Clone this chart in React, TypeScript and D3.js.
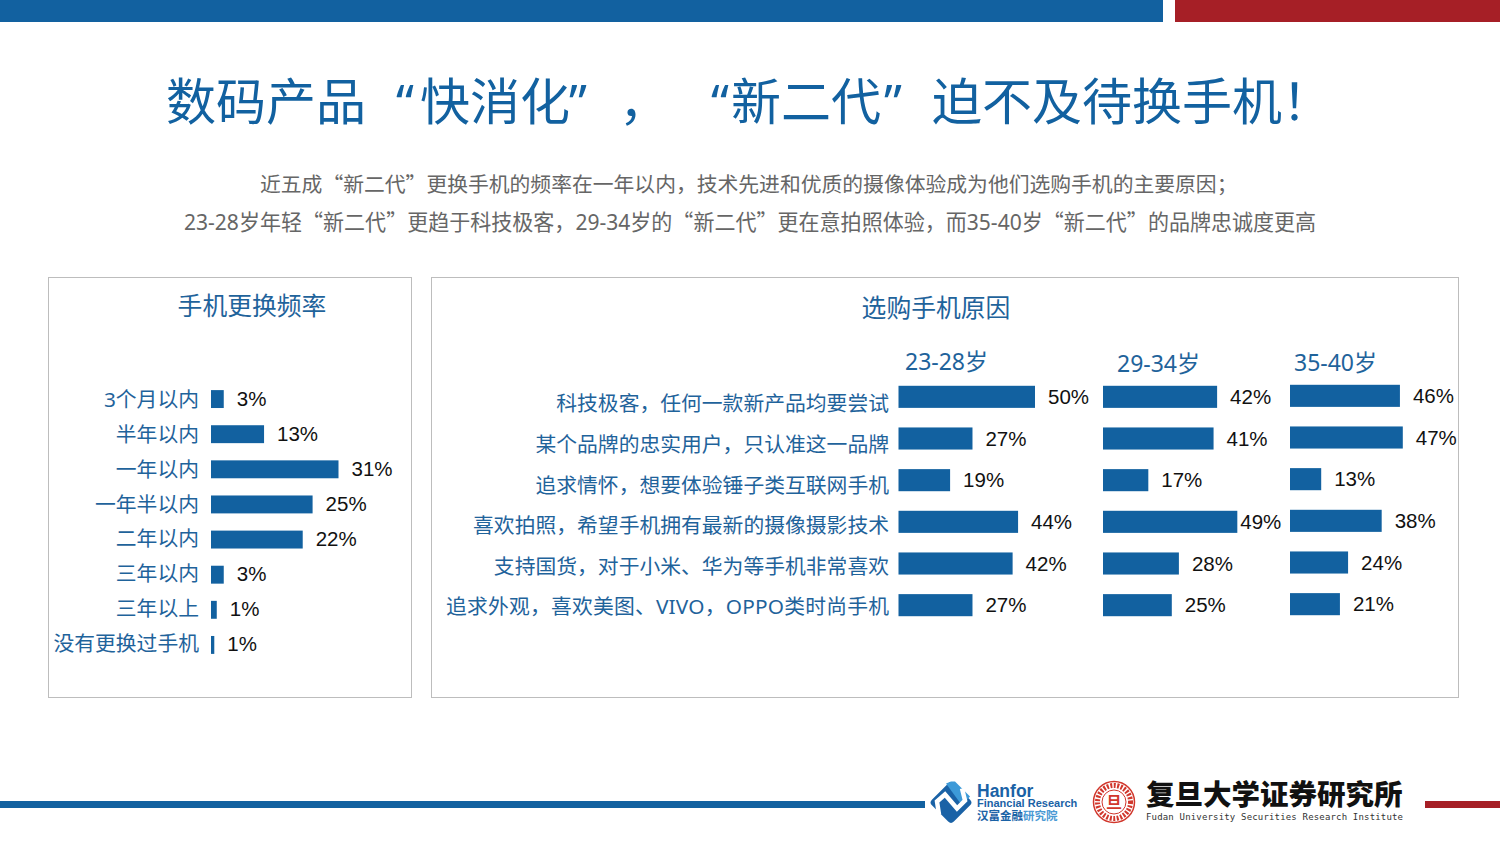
import { FC, useEffect, useRef } from 'react';
import * as d3 from 'd3';

const freqLabels = ['3个月以内', '半年以内', '一年以内', '一年半以内', '二年以内', '三年以内', '三年以上', '没有更换过手机'];
// bar lengths, the printed labels are these rounded
const freqValues = [3.1, 12.9, 31, 24.7, 22.3, 3.1, 1.4, 0.8];

const reasonLabels = [
  '科技极客，任何一款新产品均要尝试',
  '某个品牌的忠实用户，只认准这一品牌',
  '追求情怀，想要体验锤子类互联网手机',
  '喜欢拍照，希望手机拥有最新的摄像摄影技术',
  '支持国货，对于小米、华为等手机非常喜欢',
  '追求外观，喜欢美图、VIVO，OPPO类时尚手机',
];
const age2328 = [50, 27.1, 18.9, 43.8, 41.8, 27.1];
const age2934 = [41.8, 40.5, 16.6, 49.2, 27.8, 25.2];
const age3540 = [45.8, 47, 13, 38.2, 24.2, 20.8];

const BLUE = '#1261a0';
const TEXT_BLUE = '#1f639b';
const RED = '#a61f26';
const GRAY = '#666';
const FONT = '"Noto Sans", "Noto Sans CJK SC", sans-serif';
const CJK_FONT = '"Noto Sans CJK SC", sans-serif';
const NUM_FONT = '"Liberation Sans", Arial, sans-serif';

const App: FC = () => {
  const svgRef = useRef<SVGSVGElement>(null);

  useEffect(() => {
    if (!svgRef.current) return;
    const svg = d3.select(svgRef.current);
    svg.selectAll('*').remove();

    const label = (x: number, y: number, s: string, size: number, fill: string, anchor = 'start', family = FONT) =>
      svg.append('text')
        .attr('x', x)
        .attr('y', y)
        .attr('fill', fill)
        .attr('font-size', size)
        .attr('font-family', family)
        .attr('text-anchor', anchor)
        .text(s);

    // Subtitle lines: full width quotes from the CJK font, the rest as usual
    const subtitle = (x: number, y: number, s: string, size: number) => {
      const t = label(x, y, '', size, GRAY);
      s.split(/([“”])/).filter(p => p).forEach(p => {
        t.append('tspan')
          .attr('font-family', /[“”]/.test(p) ? CJK_FONT : FONT)
          .text(p);
      });
    };

    // Header and footer bands
    svg.append('rect').attr('x', 0).attr('y', 0).attr('width', 1163).attr('height', 22).attr('fill', BLUE);
    svg.append('rect').attr('x', 1175).attr('y', 0).attr('width', 325).attr('height', 22).attr('fill', RED);
    svg.append('rect').attr('x', 0).attr('y', 801).attr('width', 925).attr('height', 7).attr('fill', BLUE);
    svg.append('rect').attr('x', 1425).attr('y', 801).attr('width', 75).attr('height', 7).attr('fill', RED);

    // Title, placed piece by piece because of the wide gaps round the quotes and comma
    label(166, 120, '数码产品', 50, BLUE);
    label(396, 120, '“', 50, BLUE);
    label(420, 120, '快消化', 50, BLUE);
    label(569, 120, '”', 50, BLUE);
    label(619, 120, '，', 50, BLUE);
    label(711, 120, '“', 50, BLUE);
    label(731, 120, '新二代', 50, BLUE);
    label(884, 120, '”', 50, BLUE);
    label(932, 120, '迫不及待换手机！', 50, BLUE);

    subtitle(260, 192, '近五成“新二代”更换手机的频率在一年以内，技术先进和优质的摄像体验成为他们选购手机的主要原因；', 20.8);
    subtitle(184, 230, '23-28岁年轻“新二代”更趋于科技极客，29-34岁的“新二代”更在意拍照体验，而35-40岁“新二代”的品牌忠诚度更高', 21.04);

    // Panels
    svg.append('rect').attr('x', 48.5).attr('y', 277.5).attr('width', 363).attr('height', 420)
      .attr('fill', 'none').attr('stroke', '#bdbdbd');
    svg.append('rect').attr('x', 431.5).attr('y', 277.5).attr('width', 1027).attr('height', 420)
      .attr('fill', 'none').attr('stroke', '#bdbdbd');
    label(252, 315, '手机更换频率', 24.8, TEXT_BLUE, 'middle');
    label(936, 317, '选购手机原因', 24.8, TEXT_BLUE, 'middle');

    // Left chart
    const yFreq = d3.scaleBand<string>().domain(freqLabels).range([381.5, 662.5]).paddingInner(0.49).paddingOuter(0.245);
    const yFreqLabel = d3.scalePoint<string>().domain(freqLabels).range([399, 643]);
    const xFreq = d3.scaleLinear().domain([0, 31]).range([211, 338.5]);
    freqLabels.forEach((d, i) => {
      const cy = (yFreq(d) as number) + yFreq.bandwidth() / 2;
      svg.append('rect')
        .attr('x', xFreq(0))
        .attr('y', yFreq(d) as number)
        .attr('width', xFreq(freqValues[i]) - xFreq(0))
        .attr('height', yFreq.bandwidth())
        .attr('fill', BLUE);
      label(199, (yFreqLabel(d) as number) + 8, d, 20.8, TEXT_BLUE, 'end');
      label(xFreq(freqValues[i]) + 13, cy + 6.5, `${Math.round(freqValues[i])}%`, 20.5, '#111', 'start', NUM_FONT);
    });

    // Right chart, one column per age group
    const groups = [
      { name: '23-28岁', values: age2328, x0: 898.5, perPoint: 2.73, top: 376, nameX: 905, nameY: 370 },
      { name: '29-34岁', values: age2934, x0: 1103, perPoint: 2.73, top: 376, nameX: 1117, nameY: 372 },
      { name: '35-40岁', values: age3540, x0: 1290, perPoint: 2.4, top: 375, nameX: 1294, nameY: 371 },
    ];
    groups.forEach(g => {
      const y = d3.scaleBand<string>().domain(reasonLabels).range([g.top, g.top + 250]).paddingInner(0.47).paddingOuter(0.235);
      const x = d3.scaleLinear().domain([0, 50]).range([g.x0, g.x0 + 50 * g.perPoint]);
      label(g.nameX, g.nameY, g.name, 23, TEXT_BLUE);
      reasonLabels.forEach((d, i) => {
        svg.append('rect')
          .attr('x', x(0))
          .attr('y', y(d) as number)
          .attr('width', x(g.values[i]) - x(0))
          .attr('height', y.bandwidth())
          .attr('fill', BLUE);
        const gap = g.values[i] > 49 && g.x0 === 1103 ? 3 : 13;
        label(x(g.values[i]) + gap, (y(d) as number) + y.bandwidth() / 2 + 7, `${Math.round(g.values[i])}%`, 20.5, '#111', 'start', NUM_FONT);
      });
    });

    const yReason = d3.scaleBand<string>().domain(reasonLabels).range([383, 626.6]);
    reasonLabels.forEach((d, i) => {
      const t = label(889, (yReason(d) as number) + yReason.bandwidth() / 2 + 8, d, 20.8, TEXT_BLUE, 'end');
      if (i === reasonLabels.length - 1) t.attr('textLength', 443);
    });

    // Hanfor logo
    const logo = svg.append('g').attr('transform', 'translate(951,802.5)');
    logo.append('rect').attr('x', -15.5).attr('y', -15.5).attr('width', 31).attr('height', 31).attr('rx', 4)
      .attr('transform', 'rotate(45)').attr('fill', '#1a62a6');
    logo.append('path').attr('d', 'M-5,-19 L0,-21 L4,-21 L19,-6 L11,3 Z').attr('fill', '#3d9ad8');
    logo.append('path').attr('d', 'M-12,12 L-14,-1 L-6,-8 L6,6 L14,-2 L11,-14')
      .attr('fill', 'none').attr('stroke', '#fff').attr('stroke-width', 4.5);
    label(977, 796.5, 'Hanfor', 17.5, '#1a62a6', 'start', NUM_FONT).attr('font-weight', 700);
    label(977, 807, 'Financial Research', 11, '#1a62a6', 'start', NUM_FONT).attr('font-weight', 700);
    label(977, 820, '汉富金融', 11.5, '#1a62a6', 'start', CJK_FONT).attr('font-weight', 700);
    label(1023, 820, '研究院', 11.5, '#4a9ad4', 'start', CJK_FONT).attr('font-weight', 700);

    // Fudan seal and wordmark
    const seal = svg.append('g').attr('transform', 'translate(1114,802)');
    seal.append('circle').attr('r', 20.5).attr('fill', 'none').attr('stroke', '#d1372c').attr('stroke-width', 1.5);
    seal.append('circle').attr('r', 16.5).attr('fill', 'none').attr('stroke', '#d1372c').attr('stroke-width', 5).attr('stroke-dasharray', '2 1.5');
    seal.append('circle').attr('r', 12).attr('fill', 'none').attr('stroke', '#d1372c').attr('stroke-width', 1);
    label(1114, 808, '旦', 16, '#d1372c', 'middle', CJK_FONT).attr('font-weight', 700);
    label(1146, 805, '复旦大学证券研究所', 28.5, '#111', 'start', CJK_FONT).attr('font-weight', 900);
    label(1146, 820, 'Fudan University Securities Research Institute', 9, '#333', 'start', '"DejaVu Sans Mono", monospace')
      .attr('textLength', 257);
  }, []);

  return (
    <svg
      ref={svgRef}
      width={1500}
      height={844}
      style={{ position: 'absolute', left: 0, top: 0, background: '#fff' }}
    />
  );
};

export default App;
